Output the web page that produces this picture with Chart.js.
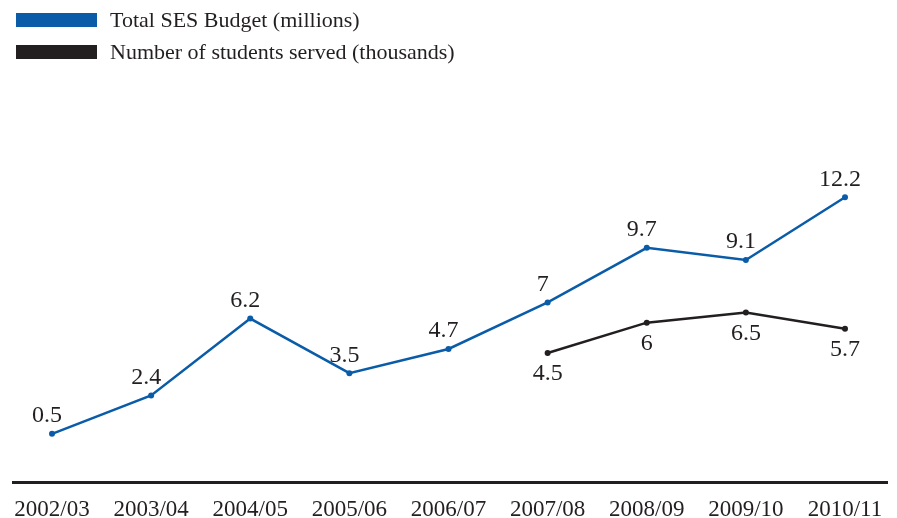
<!DOCTYPE html>
<html>
<head>
<meta charset="utf-8">
<script src="https://cdn.jsdelivr.net/npm/chart.js@4.4.0/dist/chart.umd.min.js"></script>
<style>
    html, body { margin: 0; padding: 0; background: #fff; }
    #wrap { position: relative; width: 897px; height: 518px; }
    #legend { position: absolute; left: 16px; top: 4px; font-family: "Liberation Serif", serif; font-size: 22px; color: #231f20; }
    .item { display: flex; align-items: center; height: 32px; }
    .box { width: 81px; height: 14px; margin-right: 13px; }
</style>
</head>
<body>
<div id="wrap">
    <canvas id="chart" width="897" height="518"></canvas>
    <div id="legend">
        <div class="item"><span class="box" style="background:#0a5ca8"></span>Total SES Budget (millions)</div>
        <div class="item"><span class="box" style="background:#231f20"></span>Number of students served (thousands)</div>
    </div>
</div>
<script>
// Datos del gráfico
const years = ['2002/03', '2003/04', '2004/05', '2005/06', '2006/07', '2007/08', '2008/09', '2009/10', '2010/11'];
const budget = [0.5, 2.4, 6.2, 3.5, 4.7, 7, 9.7, 9.1, 12.2];
const students = [null, null, null, null, null, 4.5, 6, 6.5, 5.7];

const blue = '#0a5ca8';
const dark = '#231f20';

// Línea del eje x (más ancha que el área del gráfico)
const axisLine = {
    id: 'axisLine',
    beforeDatasetsDraw(chart) {
        const ctx = chart.ctx;
        const y = chart.chartArea.bottom;
        ctx.save();
        ctx.strokeStyle = dark;
        ctx.lineWidth = 3;
        ctx.beginPath();
        ctx.moveTo(12, y);
        ctx.lineTo(888, y);
        ctx.stroke();
        ctx.restore();
    }
};

// Etiquetas de valores junto a los puntos
const valueLabels = {
    id: 'valueLabels',
    afterDatasetsDraw(chart) {
        const ctx = chart.ctx;
        ctx.save();
        ctx.font = '24px "Liberation Serif", serif';
        ctx.fillStyle = dark;
        ctx.textAlign = 'center';
        ctx.textBaseline = 'middle';
        chart.data.datasets.forEach((ds, i) => {
            const meta = chart.getDatasetMeta(i);
            meta.data.forEach((pt, j) => {
                const v = ds.data[j];
                if (v === null) return;
                const dy = i === 0 ? -18 : 21;
                const dx = i === 0 ? -5 : 0;
                ctx.fillText(String(v), pt.x + dx, pt.y + dy);
            });
        });
        ctx.restore();
    }
};

new Chart(document.getElementById('chart'), {
    type: 'line',
    data: {
        labels: years,
        datasets: [
            {
                label: 'Total SES Budget (millions)',
                data: budget,
                borderColor: blue,
                backgroundColor: blue,
                borderWidth: 2.5,
                pointRadius: 3,
                pointBorderWidth: 0,
                tension: 0,
                clip: false
            },
            {
                label: 'Number of students served (thousands)',
                data: students,
                borderColor: dark,
                backgroundColor: dark,
                borderWidth: 2.5,
                pointRadius: 3,
                pointBorderWidth: 0,
                tension: 0,
                clip: false
            }
        ]
    },
    options: {
        responsive: false,
        animation: false,
        layout: { padding: { left: 52, right: 52, top: 80, bottom: -12 } },
        plugins: {
            legend: { display: false },
            tooltip: { enabled: false }
        },
        scales: {
            x: {
                offset: false,
                grid: { display: false },
                border: { display: false },
                ticks: {
                    color: dark,
                    font: { family: '"Liberation Serif", serif', size: 23 },
                    padding: 6,
                    maxRotation: 0,
                    autoSkip: false
                }
            },
            y: {
                display: false,
                min: -1.9,
                max: 18
            }
        }
    },
    plugins: [axisLine, valueLabels]
});
</script>
</body>
</html>
